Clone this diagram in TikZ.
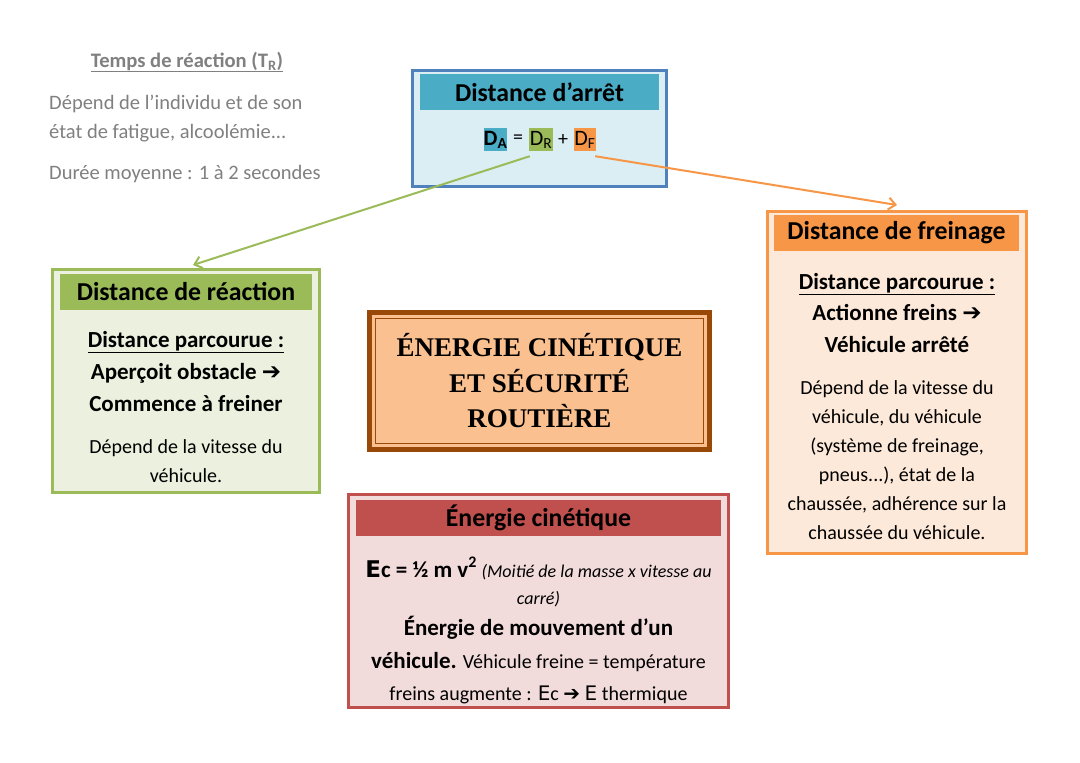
\documentclass[tikz,border=0pt]{standalone}
\usepackage{fontspec}
\setmainfont{Carlito}
\newfontfamily\titlefont{Liberation Serif}
\newfontfamily\symfont{DejaVu Sans}
\usetikzlibrary{arrows.meta,calc}
\definecolor{cBlueB}{HTML}{4F81BD}
\definecolor{cBlueF}{HTML}{DBEEF4}
\definecolor{cBlueH}{HTML}{4BACC6}
\definecolor{cGreen}{HTML}{9BBB59}
\definecolor{cGreenF}{HTML}{EBF1DE}
\definecolor{cOrange}{HTML}{F79646}
\definecolor{cOrangeF}{HTML}{FDE9D9}
\definecolor{cRed}{HTML}{C0504D}
\definecolor{cRedF}{HTML}{F2DCDB}
\definecolor{cBrown}{HTML}{984807}
\definecolor{cPeach}{HTML}{FAC090}
\definecolor{cGray}{HTML}{808080}
\newcommand{\arr}{{\symfont\bfseries ➔}}
\begin{document}
\begin{tikzpicture}[x=1pt,y=-1pt,
  frame/.style={draw, line width=3pt, inner sep=0, outer sep=0},
  hdr/.style={inner sep=0, outer sep=0, minimum height=36pt,
     font=\fontsize{25.8}{30}\selectfont\bfseries},
  txt/.style={font=\fontsize{20}{24}\selectfont, anchor=base, inner sep=0},
  btxt/.style={font=\fontsize{23}{27}\selectfont\bfseries, anchor=base, inner sep=0},
  gtxt/.style={font=\fontsize{20.5}{24}\selectfont, text=cGray, anchor=base west, inner sep=0},
  ttxt/.style={font=\fontsize{27}{31}\selectfont\titlefont\bfseries, anchor=base, inner sep=0},
  dbox/.style={inner sep=0, minimum width=23pt, minimum height=23pt,
     font=\fontsize{22}{26}\selectfont},
  link/.style={line width=2pt, -{Straight Barb[length=7pt,width=12pt,line width=2pt]}}
]
\useasboundingbox (0,0) rectangle (1080,763);
\fill[white] (0,0) rectangle (1080,763);

% ---- top-left note
\node[font=\fontsize{20.6}{24}\selectfont\bfseries, text=cGray, anchor=base, inner sep=0]
  (tr) at (187,67) {\underline{Temps de réaction (T\textsubscript{R})}};
\node[gtxt] (tr1) at (49,109) {Dépend de l’individu et de son};
\node[gtxt] (tr2) at (49,138) {état de fatigue, alcoolémie...};
\node[gtxt] (tr3) at (49,179) {Durée moyenne : 1 à 2 secondes};

% ---- distance d'arret
\node[frame, draw=cBlueB, fill=cBlueF, minimum width=254pt, minimum height=116pt] (arret) at (539.5,128.5) {};
\node[hdr, fill=cBlueH, minimum width=239pt] (arreth) at (539.5,92) {Distance d’arrêt};
\node[dbox, fill=cBlueH] (da) at (495.5,139.5) {\textbf{D\textsubscript{A}}};
\node[dbox, fill=cGreen, minimum width=24pt] (dr) at (541,139.5) {D\textsubscript{R}};
\node[dbox, fill=cOrange, minimum width=22pt] (df) at (585,139.5) {D\textsubscript{F}};
\node[font=\fontsize{20}{24}\selectfont, inner sep=0] (eq) at (518,139.5) {=};
\node[font=\fontsize{20}{24}\selectfont, inner sep=0] (plus) at (563,139.5) {+};

% ---- distance de reaction
\node[frame, draw=cGreen, fill=cGreenF, minimum width=267pt, minimum height=223pt] (reac) at (186,381) {};
\node[hdr, fill=cGreen, minimum width=252pt] (reach) at (186,292) {Distance de réaction};
\node[btxt] (r1) at (186,347) {\underline{Distance parcourue :}};
\node[btxt] (r2) at (186,379) {Aperçoit obstacle \arr};
\node[btxt] (r3) at (186,411) {Commence à freiner};
\node[txt] (r4) at (186,453) {Dépend de la vitesse du};
\node[txt] (r5) at (186,482) {véhicule.};

% ---- distance de freinage
\node[frame, draw=cOrange, fill=cOrangeF, minimum width=259pt, minimum height=342pt] (frein) at (897,382.5) {};
\node[hdr, fill=cOrange, minimum width=245pt] (freinh) at (896.5,233) {Distance de freinage};
\node[btxt] (f1) at (897,289) {\underline{Distance parcourue :}};
\node[btxt] (f2) at (897,320) {Actionne freins \arr};
\node[btxt] (f3) at (897,352) {Véhicule arrêté};
\node[txt] (f4) at (897,394) {Dépend de la vitesse du};
\node[txt] (f5) at (897,423) {véhicule, du véhicule};
\node[txt] (f6) at (897,452) {(système de freinage,};
\node[txt] (f7) at (897,481) {pneus...), état de la};
\node[txt] (f8) at (897,510) {chaussée, adhérence sur la};
\node[txt] (f9) at (897,539) {chaussée du véhicule.};

% ---- title
\node[draw=cBrown, line width=5pt, fill=cPeach, minimum width=340pt, minimum height=137pt, inner sep=0, outer sep=0] (title) at (539.5,381) {};
\draw[cBrown, line width=1.5pt] ($(title.north west)+(6,6)$) rectangle ($(title.south east)+(-6,-6)$);
\node[ttxt] (t1) at (539.5,356) {ÉNERGIE CINÉTIQUE};
\node[ttxt] (t2) at (539.5,392) {ET SÉCURITÉ};
\node[ttxt] (t3) at (539.5,427) {ROUTIÈRE};

% ---- energie cinetique
\node[frame, draw=cRed, fill=cRedF, minimum width=380pt, minimum height=213pt] (ec) at (538.5,601) {};
\node[hdr, fill=cRed, minimum width=365pt] (ech) at (538.5,518) {Énergie cinétique};
\node[txt] (e1) at (538.5,577) {{\fontsize{23}{27}\selectfont\bfseries {\symfont E}c = ½ m v\textsuperscript{2}} {\fontsize{18}{22}\selectfont\itshape (Moitié de la masse x vitesse au}};
\node[txt, font=\fontsize{18}{22}\selectfont\itshape] (e2) at (538.5,604) {carré)};
\node[btxt] (e3) at (538.5,635) {Énergie de mouvement d’un};
\node[txt] (e4) at (538.5,668) {{\fontsize{23}{27}\selectfont\bfseries véhicule.} Véhicule freine = température};
\node[txt] (e5) at (538.5,700) {freins augmente : {\symfont E}c \arr{} {\symfont E} thermique};

% ---- connectors
\coordinate (gtip) at (193,265);
\coordinate (otip) at (897,205);
\draw[link, cGreen] ($(dr.south west)+(1,5)$) -- (gtip);
\draw[link, cOrange] ($(df.south east)+(-1,5)$) -- (otip);
\end{tikzpicture}
\end{document}
